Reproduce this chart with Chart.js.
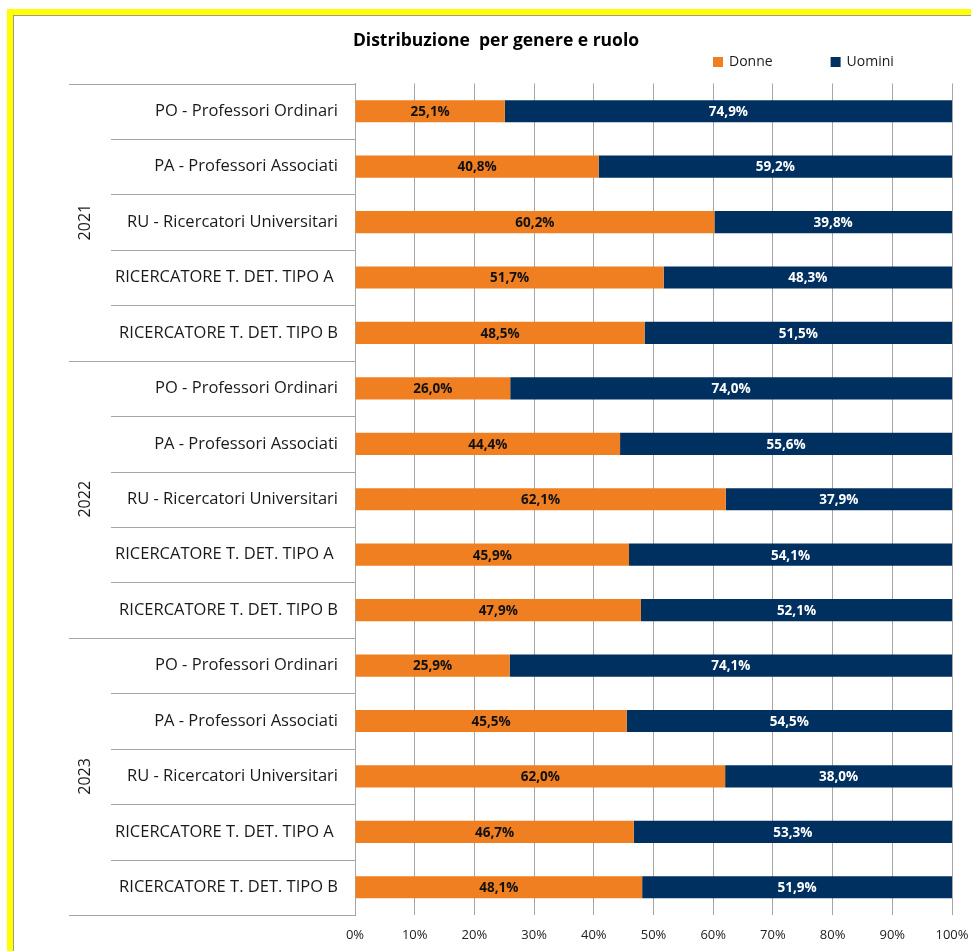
<!DOCTYPE html>
<html>
<head>
<meta charset="utf-8">
<script src="https://cdn.jsdelivr.net/npm/chart.js@4/dist/chart.umd.min.js"></script>
<style>
  html, body { margin: 0; padding: 0; background: #ffffff; }
  body { width: 971px; height: 951px; position: relative; overflow: hidden; }
  #yellow { position: absolute; left: 7px; top: 9px; right: 0; bottom: 0; border-left: 6px solid #FFFF00; border-top: 6px solid #FFFF00; }
  #inner { position: absolute; left: 13px; top: 15px; right: 0; bottom: 0; border-left: 1px solid #9a9a9a; border-top: 1px solid #9a9a9a; }
  #wrap { position: absolute; left: 0; top: 0; width: 971px; height: 951px; }
</style>
</head>
<body>
<div id="yellow"></div>
<div id="inner"></div>
<div id="wrap"><canvas id="c"></canvas></div>
<script>
const chartTitle = 'Distribuzione  per genere e ruolo';
const years = ['2021', '2022', '2023'];
const roles = [
  'PO - Professori Ordinari',
  'PA - Professori Associati',
  'RU - Ricercatori Universitari',
  'RICERCATORE T. DET. TIPO A ',
  'RICERCATORE T. DET. TIPO B'
];
const categories = years.flatMap(() => roles);
const seriesNames = ['Donne', 'Uomini'];
const donne  = [25.1, 40.8, 60.2, 51.7, 48.5, 26.0, 44.4, 62.1, 45.9, 47.9, 25.9, 45.5, 62.0, 46.7, 48.1];
const uomini = [74.9, 59.2, 39.8, 48.3, 51.5, 74.0, 55.6, 37.9, 54.1, 52.1, 74.1, 54.5, 38.0, 53.3, 51.9];
const xTickValues = [0, 10, 20, 30, 40, 50, 60, 70, 80, 90, 100];

const ORANGE = '#F07F21';
const NAVY = '#00305F';
const GRID = '#A6A6A6';
const FONT = "'Open Sans', sans-serif";

const fmt = v => v.toFixed(1).replace('.', ',') + '%';

const decorPlugin = {
  id: 'decor',
  afterDatasetsDraw(chart) {
    const ctx = chart.ctx;
    ctx.save();
    ctx.font = "bold 13.5px " + FONT;
    ctx.textAlign = 'center';
    ctx.textBaseline = 'middle';
    chart.data.datasets.forEach((ds, di) => {
      const meta = chart.getDatasetMeta(di);
      meta.data.forEach((el, i) => {
        const cx = (el.x + el.base) / 2;
        ctx.fillStyle = di === 0 ? '#111111' : '#ffffff';
        ctx.fillText(fmt(ds.data[i]), cx, el.y + 1);
      });
    });
    ctx.restore();
  },
  afterDraw(chart) {
    const ctx = chart.ctx;
    const ys = chart.scales.y;
    const area = chart.chartArea;
    const n = categories.length;
    const per = roles.length;
    ctx.save();
    ctx.strokeStyle = GRID;
    ctx.lineWidth = 1;
    for (let b = 0; b <= n; b++) {
      let y;
      if (b === 0) y = ys.top;
      else if (b === n) y = ys.bottom;
      else y = (ys.getPixelForValue(b - 1) + ys.getPixelForValue(b)) / 2;
      y = Math.round(y) + 0.5;
      const x0 = (b % per === 0) ? 69 : 111;
      ctx.beginPath();
      ctx.moveTo(x0, y);
      ctx.lineTo(area.left, y);
      ctx.stroke();
    }
    ctx.fillStyle = '#1a1a1a';
    ctx.font = "16px " + FONT;
    ctx.textAlign = 'center';
    ctx.textBaseline = 'middle';
    years.forEach((yr, g) => {
      const yc = (ys.getPixelForValue(g * per) + ys.getPixelForValue(g * per + per - 1)) / 2;
      ctx.save();
      ctx.translate(85, yc);
      ctx.rotate(-Math.PI / 2);
      ctx.fillText(yr, 0, 0);
      ctx.restore();
    });
    ctx.font = "14px " + FONT;
    ctx.textAlign = 'left';
    ctx.textBaseline = 'middle';
    let lx = 713;
    const ly = 62;
    chart.data.datasets.forEach(ds => {
      ctx.fillStyle = ds.backgroundColor;
      ctx.fillRect(lx, ly - 5, 10, 10);
      ctx.fillStyle = '#1a1a1a';
      ctx.fillText(ds.label, lx + 16, ly);
      lx += 16 + ctx.measureText(ds.label).width + 58;
    });
    ctx.restore();
  }
};

new Chart(document.getElementById('c'), {
  type: 'bar',
  data: {
    labels: categories,
    datasets: [
      { label: seriesNames[0], data: donne, backgroundColor: ORANGE, borderWidth: 0 },
      { label: seriesNames[1], data: uomini, backgroundColor: NAVY, borderWidth: 0 }
    ]
  },
  options: {
    indexAxis: 'y',
    responsive: true,
    maintainAspectRatio: false,
    animation: false,
    barPercentage: 0.4,
    categoryPercentage: 1.0,
    layout: { padding: { top: 21, left: 40, right: 19, bottom: 8 } },
    plugins: {
      legend: { display: false },
      tooltip: { enabled: false },
      title: {
        display: true,
        text: chartTitle,
        color: '#000000',
        font: { family: FONT, size: 17.5, weight: 'bold' },
        padding: { top: 10, bottom: 31.5 }
      }
    },
    scales: {
      x: {
        stacked: true,
        min: 0,
        max: 100,
        afterBuildTicks: s => { s.ticks = xTickValues.map(v => ({ value: v })); },
        afterFit: s => { s.paddingLeft = 0; s.paddingRight = 0; s.height = 28; },
        grid: { color: GRID, drawTicks: false },
        border: { display: false },
        ticks: {
          padding: 12,
          color: '#222222',
          font: { family: FONT, size: 13 },
          callback: v => v + '%'
        }
      },
      y: {
        stacked: true,
        afterFit: s => { s.width = 315; s.paddingTop = 0; s.paddingBottom = 0; },
        grid: { display: false, drawTicks: false },
        border: { display: true, color: GRID, width: 1 },
        ticks: {
          padding: 17,
          color: '#1a1a1a',
          font: { family: FONT, size: 16.5 },
          autoSkip: false
        }
      }
    }
  },
  plugins: [decorPlugin]
});
</script>
</body>
</html>
